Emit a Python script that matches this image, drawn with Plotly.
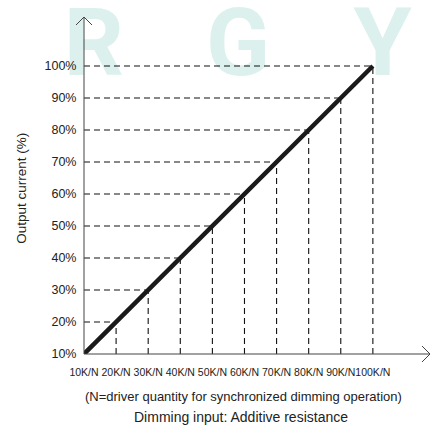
import plotly.graph_objects as go

x_vals = [10, 20, 30, 40, 50, 60, 70, 80, 90, 100]
x_labels = ["10K/N", "20K/N", "30K/N", "40K/N", "50K/N", "60K/N", "70K/N", "80K/N", "90K/N", "100K/N"]
y_vals = [10, 20, 30, 40, 50, 60, 70, 80, 90, 100]
y_ticks = [10, 20, 30, 40, 50, 60, 70, 80, 90, 100]
y_labels = ["10%", "20%", "30%", "40%", "50%", "60%", "70%", "80%", "90%", "100%"]
watermark = ["R", "G", "Y"]

X0, Y0 = x_vals[0], y_vals[0]
XMAX, YMAX = 117.8, 115.3

# dashed guide lines from each point to both axes
gx, gy = [], []
for xv, yv in zip(x_vals[1:], y_vals[1:]):
    gx += [xv, xv, None, X0, xv, None]
    gy += [Y0, yv, None, yv, yv, None]

fig = go.Figure()
# faint watermark letters behind everything
fig.add_trace(go.Scatter(x=[13.1, 58.0, 103.0], y=[104.4] * 3, mode="text",
                         text=["<b>" + t + "</b>" for t in watermark],
                         textposition="middle center",
                         textfont=dict(family="Roboto, sans-serif", size=94, color="#dcf1ee"),
                         hoverinfo="skip", showlegend=False, cliponaxis=False))
fig.add_trace(go.Scatter(x=gx, y=gy, mode="lines",
                         line=dict(color="#111", width=1.1, dash="6px,4px"),
                         hoverinfo="skip", showlegend=False, cliponaxis=False))
fig.add_trace(go.Scatter(x=x_vals, y=y_vals, mode="lines",
                         line=dict(color="#1a1a1a", width=4.5),
                         showlegend=False, cliponaxis=False))

axis_color = "#444"
shapes = [
    dict(type="line", xref="paper", yref="paper", x0=0, x1=1, y0=0, y1=0,
         line=dict(color=axis_color, width=1), layer="above"),
    dict(type="line", xref="paper", yref="paper", x0=0, x1=0, y0=0, y1=1,
         line=dict(color=axis_color, width=1), layer="above"),
    # arrow heads
    dict(type="path", xref="paper", yref="paper", xsizemode="pixel", ysizemode="pixel",
         xanchor=0, yanchor=1, path="M -8,-8 L 0,0 L 8,-8",
         line=dict(color=axis_color, width=1)),
    dict(type="path", xref="paper", yref="paper", xsizemode="pixel", ysizemode="pixel",
         xanchor=1, yanchor=0, path="M -8,8 L 0,0 L -8,-8",
         line=dict(color=axis_color, width=1)),
]

annotations = []
annotations.append(dict(text="(N=driver quantity for synchronized dimming operation)",
                        x=0.46, y=-0.127, xref="paper", yref="paper", xanchor="center",
                        yanchor="middle", showarrow=False,
                        font=dict(family="Liberation Sans, Arial, sans-serif", size=13, color="#222")))
annotations.append(dict(text="Dimming input: Additive resistance",
                        x=0.455, y=-0.187, xref="paper", yref="paper", xanchor="center",
                        yanchor="middle", showarrow=False,
                        font=dict(family="Liberation Sans, Arial, sans-serif", size=14, color="#222")))
annotations.append(dict(text="Output current (%)", x=-62 / 346, y=0.49, xref="paper", yref="paper",
                        xanchor="center", yanchor="middle", showarrow=False, textangle=-90,
                        font=dict(family="Liberation Sans, Arial, sans-serif", size=13.5, color="#222")))

fig.update_layout(
    width=430, height=426,
    margin=dict(l=84, r=0, t=17, b=72),
    paper_bgcolor="white", plot_bgcolor="white",
    shapes=shapes, annotations=annotations,
    xaxis=dict(range=[X0, XMAX], tickvals=x_vals, ticktext=x_labels, showgrid=False,
               zeroline=False, showline=False, ticks="outside", ticklen=8, tickcolor="rgba(0,0,0,0)",
               tickangle=0, automargin=False,
               tickfont=dict(family="Liberation Sans, Arial, sans-serif", size=10.5, color="#222")),
    yaxis=dict(range=[Y0, YMAX], tickvals=y_ticks, ticktext=y_labels, showgrid=False,
               zeroline=False, showline=False, ticks="outside", ticklen=4, tickcolor="rgba(0,0,0,0)",
               automargin=False,
               tickfont=dict(family="Liberation Sans, Arial, sans-serif", size=12.5, color="#222")),
)
fig.write_html("out.html", config={"displayModeBar": False},
               post_script="document.body.style.margin='0';")
